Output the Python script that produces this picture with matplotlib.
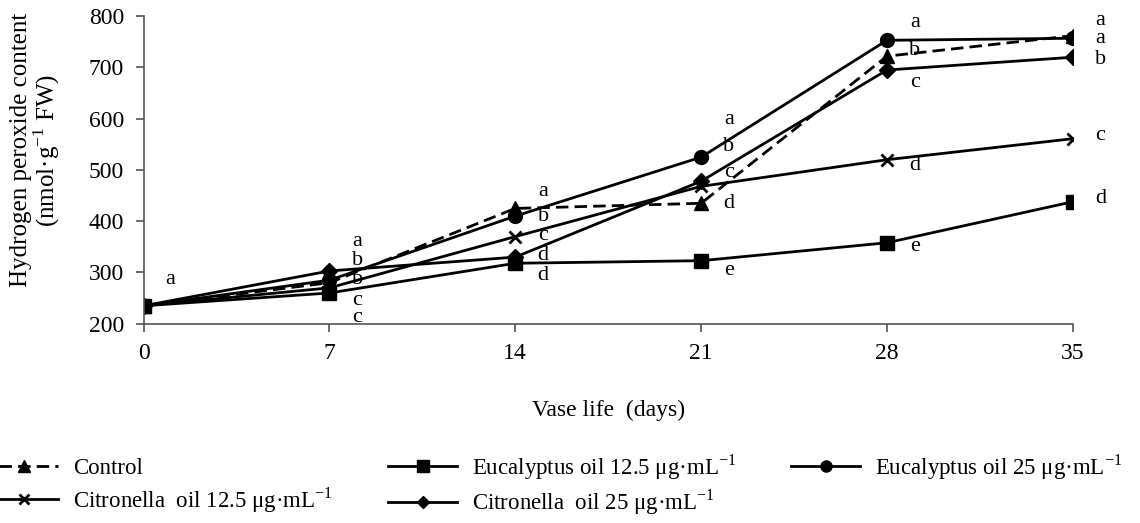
import matplotlib.pyplot as plt

plt.rcParams['font.family'] = ['Liberation Serif', 'DejaVu Serif']
plt.rcParams['mathtext.fontset'] = 'custom'
plt.rcParams['mathtext.rm'] = 'Liberation Serif'

days = [0, 7, 14, 21, 28, 35]

control = [235, 280, 425, 435, 722, 762]
euc_125 = [235, 260, 318, 323, 358, 438]
euc_25 = [235, 285, 410, 525, 753, 757]
cit_125 = [235, 270, 370, 468, 520, 561]
cit_25 = [235, 303, 330, 478, 695, 720]

# significance letters per day
control_sig = ['', 'b', 'a', 'd', 'b', 'a']
euc_125_sig = ['', 'c', 'd', 'e', 'e', 'd']
euc_25_sig = ['', 'b', 'b', 'a', 'a', 'a']
cit_125_sig = ['', 'c', 'c', 'c', 'd', 'c']
cit_25_sig = ['', 'a', 'd', 'b', 'c', 'b']

ug = r'μg·mL$^{-1}$'
series = [
    ('Control', control, control_sig, '^', '--'),
    ('Citronella  oil 12.5 ' + ug, cit_125, cit_125_sig, 'x', '-'),
    ('Eucalyptus oil 12.5 ' + ug, euc_125, euc_125_sig, 's', '-'),
    ('Citronella  oil 25 ' + ug, cit_25, cit_25_sig, 'D', '-'),
    ('Eucalyptus oil 25 ' + ug, euc_25, euc_25_sig, 'o', '-'),
]

# vertical offsets (points) of the letters so they don't collide
label_dy = [
    [0, 2, 12, 0, 4, 11],     # control
    [0, -9, 1, 10, -4, 2],    # citronella 12.5
    [0, -18, -9, -7, -3, 2],  # eucalyptus 12.5
    [0, 21, 1, 25, -9, -2],   # citronella 25
    [0, 14, 0, 27, 13, 0],    # eucalyptus 25
]
marker_size = {'^': 10, 'x': 9, 's': 10, 'D': 8, 'o': 10}

fig = plt.figure(figsize=(11.4, 5.23), dpi=100)
ax = fig.add_axes([0.126, 0.381, 0.815, 0.588])

handles = []
for (name, vals, sig, mk, ls), dys in zip(series, label_dy):
    h, = ax.plot(days, vals, linestyle=ls, marker=mk, color='black', lw=2.0,
                 markersize=marker_size[mk],
                 markeredgewidth=2 if mk == 'x' else 1,
                 dashes=(4.5, 2.2) if ls == '--' else (None, None), label=name)
    handles.append(h)
    for i in range(1, len(days)):
        ax.annotate(sig[i], (days[i], vals[i]), textcoords='offset points',
                    xytext=(20, dys[i]), ha='center', va='center',
                    fontsize=16)

ax.annotate('a', (days[0], euc_125[0]), textcoords='offset points',
            xytext=(19, 19), ha='center', va='center', fontsize=16)

ax.set_xlim(0, 35)
ax.set_ylim(200, 800)
ax.set_xticks(days)
ax.set_yticks(range(200, 801, 100))
ax.spines['top'].set_visible(False)
ax.spines['right'].set_visible(False)
for s in ['left', 'bottom']:
    ax.spines[s].set_color('#555555')
    ax.spines[s].set_linewidth(1.2)
ax.tick_params(direction='out', length=6, width=1.2, color='#555555',
               labelsize=17, pad=8)
ax.set_xlabel('Vase life  (days)', fontsize=17, labelpad=26)
ax.set_ylabel('Hydrogen peroxide content\n(nmol·g$^{-1}$ FW)', fontsize=18,
              linespacing=0.95)
ax.yaxis.set_label_coords(-0.088, 0.565)

fig.legend(handles=handles, loc='upper left', bbox_to_anchor=(-0.009, 0.135),
           ncol=3, frameon=False,
           prop={'family': ['Liberation Serif', 'DejaVu Serif'], 'size': 16.5},
           handlelength=3.0, handletextpad=0.65, columnspacing=2.4,
           labelspacing=0.25, borderaxespad=0, borderpad=0, markerscale=0.8)

fig.savefig('out.png', dpi=100)
